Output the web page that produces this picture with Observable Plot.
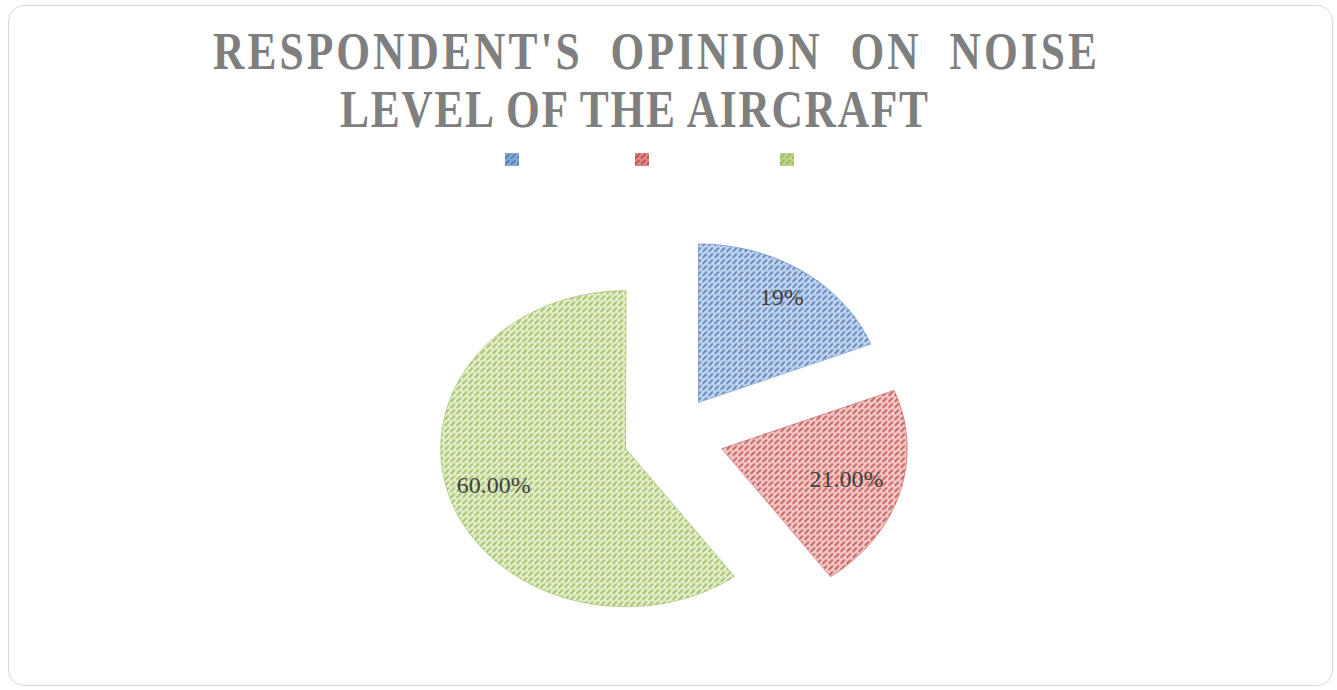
<!DOCTYPE html>
<html>
<head>
<meta charset="utf-8">
<script src="https://cdn.jsdelivr.net/npm/d3@7"></script>
<script src="https://cdn.jsdelivr.net/npm/@observablehq/plot@0.6"></script>
<style>
  html, body { margin: 0; padding: 0; background: #fff; }
  #wrap { position: relative; width: 1337px; height: 690px; overflow: hidden; background: #fff; }
  #frame { position: absolute; left: 8px; top: 5px; width: 1325px; height: 681px; box-sizing: border-box;
           border: 1.5px solid #d9d9d9; border-radius: 16px; }
  #chart { position: absolute; left: 0; top: 0; }
  #title { position: absolute; left: 0; top: 0; }
  #legend { position: absolute; left: 0; top: 0; }
  .sw { position: absolute; width: 14px; height: 13px; }
</style>
</head>
<body>
<svg width="0" height="0" style="position:absolute">
  <defs>
    <pattern id="pat0" patternUnits="userSpaceOnUse" width="6" height="6">
      <rect width="6" height="6" fill="#c6d6ef"/>
      <path d="M0.5,5 L4,1.5" stroke="#4a78b6" stroke-width="1.7" stroke-linecap="round"/>
    </pattern>
    <pattern id="pat1" patternUnits="userSpaceOnUse" width="6" height="6">
      <rect width="6" height="6" fill="#f4cbca"/>
      <path d="M0.5,5 L4,1.5" stroke="#bd4b48" stroke-width="1.7" stroke-linecap="round"/>
    </pattern>
    <pattern id="pat2" patternUnits="userSpaceOnUse" width="6" height="6">
      <rect width="6" height="6" fill="#e5efcf"/>
      <path d="M0.5,5 L4,1.5" stroke="#97b852" stroke-width="1.7" stroke-linecap="round"/>
    </pattern>
  </defs>
</svg>
<div id="wrap">
  <div id="frame"></div>
  <div id="chart"></div>
  <svg id="title" width="1337" height="140">
    <g transform="translate(213,69) scale(0.82,1)">
      <text x="0" y="0" textLength="1078" lengthAdjust="spacing" style="white-space:pre"
            font-family="Liberation Serif" font-weight="bold" font-size="53" fill="#7f7f7f">RESPONDENT'S  OPINION  ON  NOISE</text>
    </g>
    <g transform="translate(340,127) scale(0.82,1)">
      <text x="0" y="0" textLength="717" lengthAdjust="spacing" style="white-space:pre"
            font-family="Liberation Serif" font-weight="bold" font-size="53" fill="#7f7f7f">LEVEL OF THE AIRCRAFT</text>
    </g>
  </svg>
  <div id="legend"></div>
</div>
<script>
// ---- data ----
const categories = ["", "", ""];            // legend entries (no visible labels in the source)
const values = [19, 21, 60];                // percent shares
const valueLabels = ["19%", "21.00%", "60.00%"];

// ---- styling / layout constants ----
const baseColors = ["#4f81bd", "#c0504d", "#9bbb59"];
const patterns = ["url(#pat0)", "url(#pat1)", "url(#pat2)"];
const explode = [0.26, 0.285, 0.26];
const labelR = [0.8, 0.7, 0.75];
const W = 1337, H = 690;
const cx = 671, cy = 435.5, rx = 185, ry = 158;

const total = d3.sum(values);
let acc = 0;
const slices = values.map((v, i) => {
  const a0 = acc / total * 2 * Math.PI;
  acc += v;
  const a1 = acc / total * 2 * Math.PI;
  const mid = (a0 + a1) / 2;
  return {i, a0, a1, mid, ox: explode[i] * Math.sin(mid), oy: explode[i] * Math.cos(mid)};
});

// polygon outline of each wedge (apex + arc), in unit-radius coordinates
const outlines = slices.map(s => {
  const p = [{x: s.ox, y: s.oy}];
  const n = Math.max(2, Math.ceil((s.a1 - s.a0) / (Math.PI / 180)));
  for (let k = 0; k <= n; k++) {
    const t = s.a0 + (s.a1 - s.a0) * k / n;
    p.push({x: s.ox + Math.sin(t), y: s.oy + Math.cos(t)});
  }
  return p;
});

const chart = Plot.plot({
  width: W,
  height: H,
  margin: 0,
  style: {background: "transparent", overflow: "visible"},
  x: {domain: [-cx / rx, (W - cx) / rx], axis: null},
  y: {domain: [-(H - cy) / ry, cy / ry], axis: null},
  marks: [
    ...slices.map((s, i) => Plot.line(outlines[i], {
      x: "x", y: "y", curve: "linear-closed",
      fill: patterns[i], stroke: baseColors[i], strokeWidth: 1, strokeOpacity: 0.6
    })),
    Plot.text(slices, {
      x: s => s.ox + labelR[s.i] * Math.sin(s.mid),
      y: s => s.oy + labelR[s.i] * Math.cos(s.mid),
      text: s => valueLabels[s.i],
      fontFamily: "Liberation Serif",
      fontSize: 24,
      fill: "#404040"
    })
  ]
});
document.getElementById("chart").appendChild(chart);

// legend (swatches only, as in the source)
const legend = document.getElementById("legend");
const swX = [505, 635, 780];
categories.forEach((c, i) => {
  const d = document.createElement("div");
  d.className = "sw";
  d.style.left = swX[i] + "px";
  d.style.top = "152px";
  d.innerHTML = `<svg width="14" height="13"><rect width="14" height="13" fill="${patterns[i]}"/><rect width="14" height="13" fill="${baseColors[i]}" opacity="0.55"/></svg>`;
  d.title = c;
  legend.appendChild(d);
});
</script>
</body>
</html>
